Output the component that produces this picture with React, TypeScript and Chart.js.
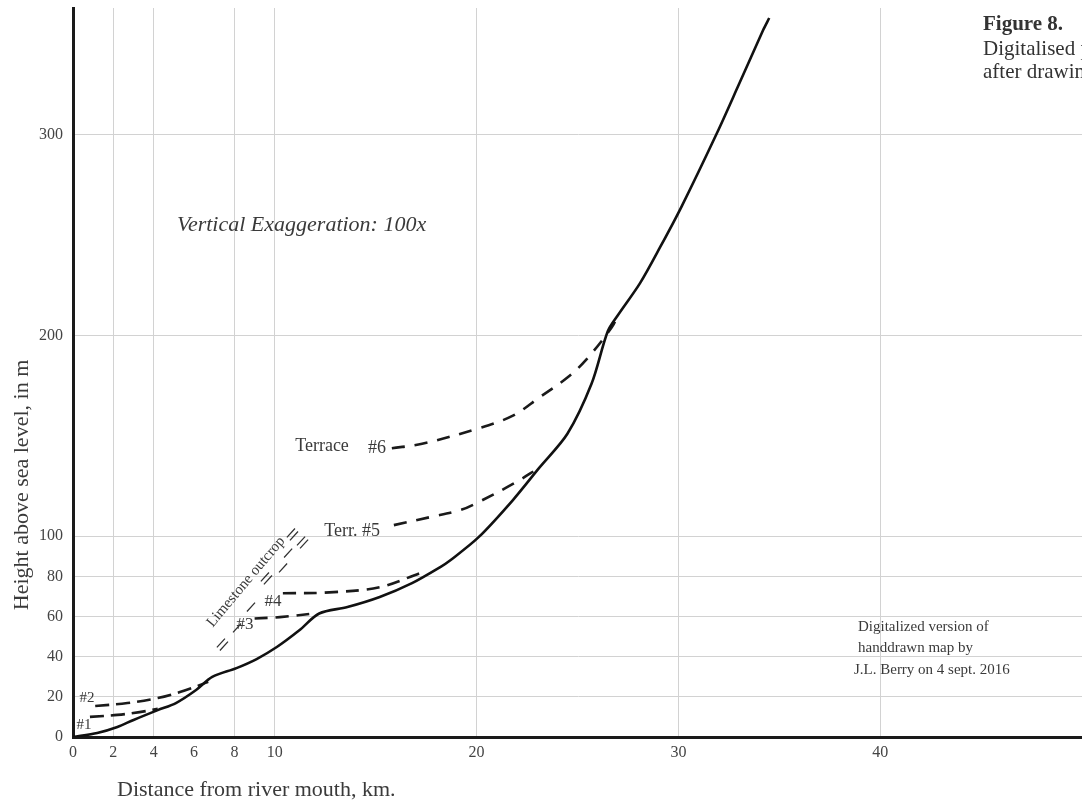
import React, { useEffect, useRef } from "react";
import { Chart, registerables } from "chart.js";

Chart.register(...registerables);

// ---------- data (km, m) ----------
const mainX = [0, 1.2, 2.2, 3.0, 4.2, 5.1, 6.1, 6.9, 8.1, 9.1, 10.1, 11.2, 12.2, 13.6, 15.2, 16.8, 18.2, 18.7, 20.1, 21.8, 23.1, 24.5, 25.7, 26.5, 27.0, 28.1, 29.1, 30.15, 31.9, 33.0, 34.2, 34.5];
const mainY = [0, 2, 5, 8.5, 13.4, 16.9, 23.4, 29.9, 34.3, 38.8, 44.8, 53, 61.5, 64.7, 69.7, 76.6, 84.6, 88, 99.5, 118, 134, 151, 176, 202, 210, 226, 244, 264, 300.5, 325, 352, 358];

const t1X = [0.84, 2.2, 3.3, 4.2];
const t1Y = [10, 11, 12.4, 14.0];
const t2X = [1.1, 2.7, 4.2, 5.3, 6.3, 6.7];
const t2Y = [15.4, 16.9, 19.4, 22.4, 25.9, 27.5];
const t3X = [9.0, 10.25, 12.1];
const t3Y = [59, 59.7, 61.7];
const t4X = [10.4, 12.7, 15.2, 17.2];
const t4Y = [71.6, 72, 74.6, 81.6];
const t5X = [15.9, 17.7, 19.2, 20.1, 21.8, 23.1];
const t5Y = [105.5, 109.5, 113, 117, 126, 134];
const t6X = [15.8, 17.3, 20.1, 21.8, 23.1, 24.5, 25.4, 26.7, 27.0];
const t6Y = [143.8, 146, 153.7, 160, 169, 179, 187.5, 204, 210];

// limestone outcrop hatch marks (segments separated by null)
const outcropX = [7.13, 7.53, null, 7.28, 7.68, null, 7.93, 8.33, null, 8.62, 9.02, null, 9.31, 9.71, null, 9.46, 9.86, null, 10.21, 10.61, null, 10.46, 10.86, null, 10.6, 11.0, null, 10.75, 11.15, null, 11.1, 11.5, null, 11.25, 11.65];
const outcropY = [44.6, 49.0, null, 43.1, 47.5, null, 52.1, 56.5, null, 62.5, 66.9, null, 77.5, 81.9, null, 76.0, 80.4, null, 82.0, 86.4, null, 89.4, 93.8, null, 99.4, 103.8, null, 97.9, 102.3, null, 95.4, 99.8, null, 93.9, 98.3];

const xTicks = [0, 2, 4, 6, 8, 10, 20, 30, 40, 50];
const xTickLabels = ["0", "2", "4", "6", "8", "10", "20", "30", "40", ""];
const yTicks = [0, 20, 40, 60, 80, 100, 200, 300];

const HAND = "'Liberation Serif', 'DejaVu Serif', serif";

const toPts = (xs: (number | null)[], ys: (number | null)[]) =>
  xs.map((x, i) => ({ x: x === null ? (xs[i - 1] as number) : x, y: ys[i] }));

type Note = { text: string; x: number; y: number; size: number; align?: CanvasTextAlign; rot?: number; italic?: boolean };
const notes: Note[] = [
  { text: "#1", x: 0.55, y: 6.0, size: 15 },
  { text: "#2", x: 0.69, y: 19.4, size: 15 },
  { text: "#3", x: 8.52, y: 55.8, size: 17 },
  { text: "#4", x: 9.91, y: 67.7, size: 17 },
  { text: "Terrace", x: 12.34, y: 144.9, size: 18 },
  { text: "#6", x: 15.06, y: 143.9, size: 18 },
  { text: "Terr. #5", x: 13.83, y: 102.6, size: 18 },
  { text: "Limestone outcrop", x: 8.57, y: 77.2, size: 15, rot: -50 },
  { text: "Vertical Exaggeration: 100x", x: 5.15, y: 255, size: 22, align: "left", italic: true },
  { text: "Digitalized version of", x: 38.9, y: 54.8, size: 15, align: "left" },
  { text: "handdrawn map by", x: 38.9, y: 44.3, size: 15, align: "left" },
  { text: "J.L. Berry on 4 sept. 2016", x: 38.7, y: 33.4, size: 15, align: "left" },
];

const textPlugin = {
  id: "texts",
  afterDraw(chart: any) {
    const { ctx, chartArea, scales } = chart;
    const xs = scales.x;
    const ys = scales.y;
    ctx.save();
    ctx.fillStyle = "#3a3a3a";
    ctx.textBaseline = "middle";
    for (const n of notes) {
      const px = xs.getPixelForValue(n.x);
      const py = ys.getPixelForValue(n.y);
      ctx.save();
      ctx.translate(px, py);
      if (n.rot) ctx.rotate((n.rot * Math.PI) / 180);
      ctx.font = `${n.italic ? "italic " : ""}${n.size}px ${HAND}`;
      ctx.textAlign = n.align || "center";
      ctx.fillText(n.text, 0, 0);
      ctx.restore();
    }
    // axis titles
    ctx.font = `22px ${HAND}`;
    ctx.textAlign = "left";
    ctx.fillText("Distance from river mouth, km.", chartArea.left + 44, chartArea.bottom + 53);
    ctx.save();
    ctx.translate(chartArea.left - 51, 485);
    ctx.rotate(-Math.PI / 2);
    ctx.textAlign = "center";
    ctx.fillText("Height above sea level, in m", 0, 0);
    ctx.restore();
    // figure caption (cut off at the page edge)
    ctx.fillStyle = "#333";
    ctx.font = `bold 21px ${HAND}`;
    ctx.fillText("Figure 8.", 983, 25);
    ctx.font = `21px ${HAND}`;
    ctx.fillText("Digitalised profile", 983, 49);
    ctx.fillText("after drawing by", 983, 72);
    ctx.restore();
  },
};

export default function App() {
  const ref = useRef<HTMLCanvasElement | null>(null);
  useEffect(() => {
    if (!ref.current) return;
    const dash = (xs: number[], ys: number[], d: number[]) => ({
      data: toPts(xs, ys),
      borderColor: "#1a1a1a",
      borderWidth: 2.6,
      borderDash: d,
      pointRadius: 0,
      tension: 0.35,
      fill: false,
    });
    const chart = new Chart(ref.current, {
      type: "line",
      data: {
        datasets: [
          { data: toPts(mainX, mainY), borderColor: "#111", borderWidth: 2.6, pointRadius: 0, tension: 0.3, fill: false },
          dash(t1X, t1Y, [14, 7]),
          dash(t2X, t2Y, [14, 7]),
          dash(t3X, t3Y, [13, 8]),
          dash(t4X, t4Y, [13, 8]),
          dash(t5X, t5Y, [13, 10]),
          dash(t6X, t6Y, [13, 10]),
          { data: toPts(outcropX, outcropY), borderColor: "#333", borderWidth: 1.3, pointRadius: 0, tension: 0, spanGaps: false, fill: false },
        ],
      },
      options: {
        responsive: false,
        animation: false,
        devicePixelRatio: 1,
        layout: { padding: { top: 8, right: 0, left: 0, bottom: 0 } },
        plugins: { legend: { display: false }, tooltip: { enabled: false } },
        scales: {
          x: {
            type: "linear",
            min: 0,
            max: 50,
            afterBuildTicks: (s: any) => { s.ticks = xTicks.map((v) => ({ value: v })); },
            afterFit: (s: any) => { s.height = 67; s.paddingLeft = 0; s.paddingRight = 0; },
            ticks: {
              autoSkip: false,
              maxRotation: 0,
              padding: 6,
              color: "#444",
              font: { family: HAND, size: 16 },
              callback: (v: any) => { const i = xTicks.indexOf(Number(v)); return i >= 0 ? xTickLabels[i] : ""; },
            },
            grid: {
              drawTicks: false,
              lineWidth: 1,
              color: (c: any) => (c.tick && (c.tick.value === 0 || c.tick.value === 6 || c.tick.value === 50) ? "rgba(0,0,0,0)" : "#d2d2d2"),
            },
            border: { display: true, color: "#1a1a1a", width: 3 },
          },
          y: {
            type: "linear",
            min: 0,
            max: 363,
            afterBuildTicks: (s: any) => { s.ticks = yTicks.map((v) => ({ value: v })); },
            afterFit: (s: any) => { s.width = 73; s.paddingTop = 0; s.paddingBottom = 0; },
            ticks: {
              autoSkip: false,
              padding: 10,
              color: "#444",
              font: { family: HAND, size: 16 },
            },
            grid: {
              drawTicks: false,
              lineWidth: 1,
              color: (c: any) => (c.tick && c.tick.value === 0 ? "rgba(0,0,0,0)" : "#d2d2d2"),
            },
            border: { display: true, color: "#1a1a1a", width: 3 },
          },
        },
      },
      plugins: [textPlugin],
    });
    return () => chart.destroy();
  }, []);
  return (
    <div style={{ position: "fixed", left: 0, top: 0, width: 1082, height: 804, background: "#fff" }}>
      <canvas ref={ref} width={1082} height={804} style={{ width: 1082, height: 804, display: "block" }} />
    </div>
  );
}
